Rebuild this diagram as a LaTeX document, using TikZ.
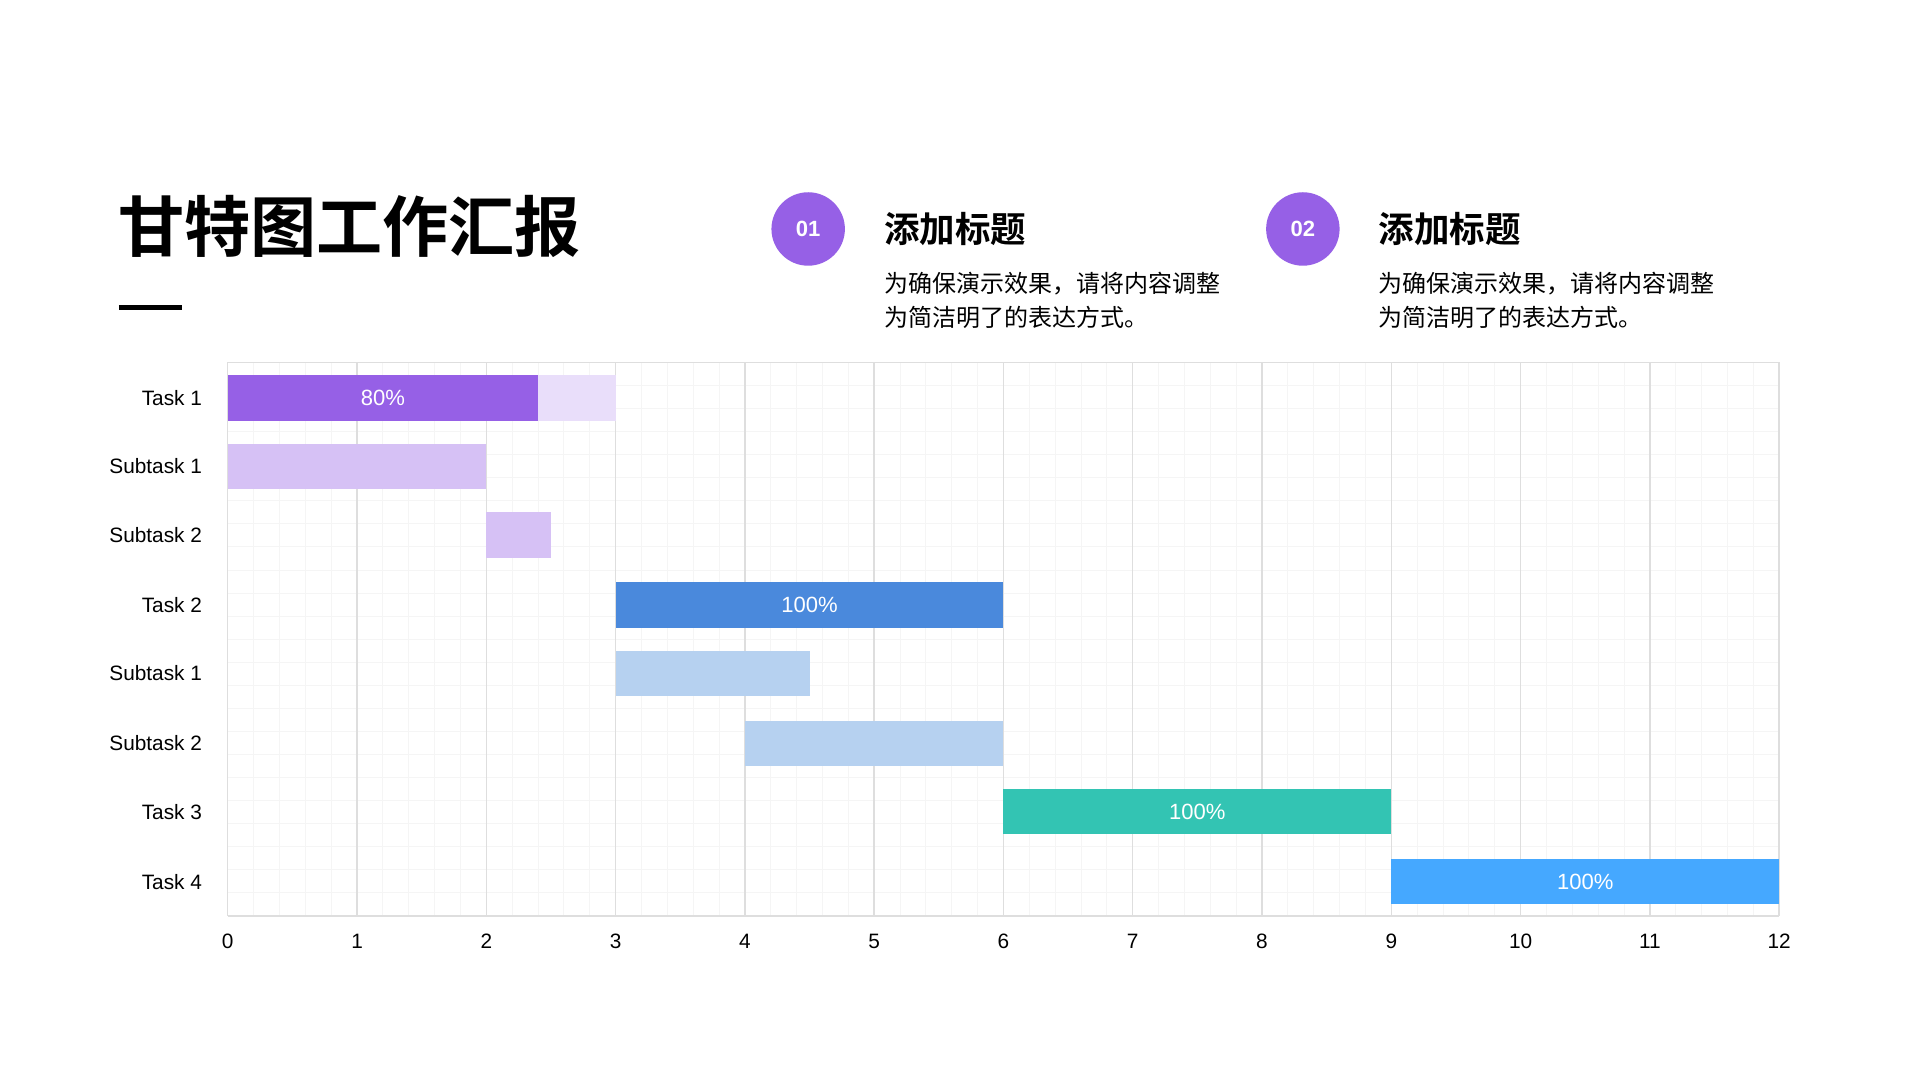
\documentclass[tikz,border=0pt]{standalone}
\usepackage{fontspec}
\setmainfont{Liberation Sans}
\newfontfamily\cjk{Noto Sans CJK SC}
\newfontfamily\cjkb{Noto Sans CJK SC Bold}
\definecolor{pA}{HTML}{9660E6}\definecolor{pL}{HTML}{E9DEFA}\definecolor{pS}{HTML}{D6C1F5}
\definecolor{bA}{HTML}{4A89DC}\definecolor{bS}{HTML}{B6D1F0}
\definecolor{gA}{HTML}{33C4B3}\definecolor{cA}{HTML}{45A8FF}
\begin{document}
\begin{tikzpicture}[x=0.5pt,y=-0.5pt,
 lab/.style={font=\fontsize{8.5}{10}\selectfont,anchor=east},
 tick/.style={font=\fontsize{8.5}{10}\selectfont},
 bar/.style={inner sep=0,outer sep=0,minimum height=18.5pt,anchor=west},
 pct/.style={font=\fontsize{9}{10}\selectfont,text=white},
 circ/.style={circle,fill=pA,minimum size=30pt,inner sep=0,text=white,font=\fontsize{9}{10}\selectfont\bfseries},
 head/.style={anchor=west,font=\cjkb\fontsize{14.5}{16}\selectfont},
 body/.style={anchor=north west,align=left,font=\cjk\fontsize{9.8}{14}\selectfont}]
\useasboundingbox (0,0) rectangle (1568,882);
\fill[white] (0,0) rectangle (1568,882);
% title
\node[anchor=west,inner sep=0,font=\cjkb\fontsize{27}{30}\selectfont] (title) at (96,185) {甘特图工作汇报};
\draw[line width=2pt] (97,251) -- (149,251);
\node[circ] (c1) at (660,187) {01};
\node[head] (h1) at (715,187) {添加标题};
\node[body] (b1) at (715,215) {为确保演示效果，请将内容调整\\为简洁明了的表达方式。};
\node[circ] (c2) at (1064,187) {02};
\node[head] (h2) at (1119,187) {添加标题};
\node[body] (b2) at (1119,215) {为确保演示效果，请将内容调整\\为简洁明了的表达方式。};
% grid
\foreach \i in {0,...,60} \draw[black!4,line width=0.4pt] ({186+\i*105.58/5},296) -- ({186+\i*105.58/5},748);
\foreach \j in {0,...,24} \draw[black!4,line width=0.4pt] (186,{296+\j*452/24}) -- (1453,{296+\j*452/24});
\foreach \i in {0,...,12} {
 \draw[black!13,line width=0.6pt] ({186+\i*105.58},296) -- ({186+\i*105.58},748);
 \node[tick] (t\i) at ({186+\i*105.58},769) {\i};}
\draw[black!13,line width=0.6pt] (186,296) -- (1453,296);
\draw[black!13,line width=0.6pt] (186,748) -- (1453,748);
% rows
\def\U{105.58}
\foreach \n/\t/\y in {r1/Task 1/325,r2/Subtask 1/381,r3/Subtask 2/437,r4/Task 2/494,r5/Subtask 1/550,r6/Subtask 2/607,r7/Task 3/663,r8/Task 4/720}
 \node[lab] (\n) at (172,\y) {\t};
\node[bar,fill=pL,minimum width={3*\U*0.5pt}] (b1a) at (186,325) {};
\node[bar,fill=pA,minimum width={2.4*\U*0.5pt}] (b1b) at (186,325) {};
\node[pct] at (b1b.center) {80\%};
\node[bar,fill=pS,minimum width={2*\U*0.5pt}] (s11) at (186,381) {};
\node[bar,fill=pS,minimum width={0.5*\U*0.5pt}] (s12) at ({186+2*\U},437) {};
\node[bar,fill=bA,minimum width={3*\U*0.5pt},pct] (b2) at ({186+3*\U},494) {100\%};
\node[bar,fill=bS,minimum width={1.5*\U*0.5pt}] (s21) at ({186+3*\U},550) {};
\node[bar,fill=bS,minimum width={2*\U*0.5pt}] (s22) at ({186+4*\U},607) {};
\node[bar,fill=gA,minimum width={3*\U*0.5pt},pct] (b3) at ({186+6*\U},663) {100\%};
\node[bar,fill=cA,minimum width={3*\U*0.5pt},pct] (b4) at ({186+9*\U},720) {100\%};
\end{tikzpicture}
\end{document}
